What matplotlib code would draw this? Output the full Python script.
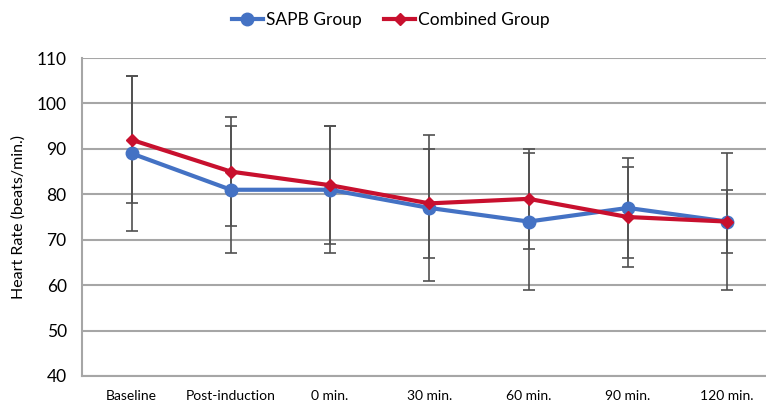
import numpy as np
import matplotlib.pyplot as plt

plt.rcParams['font.family'] = ['Lato', 'DejaVu Sans']

# data
time_points = ['Baseline', 'Post-induction', '0 min.', '30 min.', '60 min.', '90 min.', '120 min.']
sapb_mean = [89, 81, 81, 77, 74, 77, 74]
sapb_sd = [17, 14, 14, 16, 15, 11, 15]
combined_mean = [92, 85, 82, 78, 79, 75, 74]
combined_sd = [14, 12, 13, 12, 11, 11, 7]

x = np.arange(len(time_points))

fig = plt.figure(figsize=(7.66, 4.03), dpi=100)
ax = fig.add_axes([0.107, 0.067, 0.907, 0.789])

# error bars first, lines on top
ax.errorbar(x, sapb_mean, yerr=sapb_sd, fmt='none', ecolor='#505050',
            elinewidth=1.2, capsize=4, capthick=1.2, zorder=3)
ax.errorbar(x, combined_mean, yerr=combined_sd, fmt='none', ecolor='#505050',
            elinewidth=1.2, capsize=4, capthick=1.2, zorder=3)

ax.plot(x, sapb_mean, color='#4472C4', lw=3, marker='o', markersize=9,
        label='SAPB Group', zorder=4)
ax.plot(x, combined_mean, color='#C8102E', lw=3, marker='D', markersize=6,
        label='Combined Group', zorder=5)

ax.set_xlim(-0.5, len(time_points) - 0.5)
ax.set_ylim(40, 110)
ax.set_yticks(range(40, 111, 10))
ax.set_xticks(x)
ax.set_xticklabels(time_points, fontsize=10)
ax.tick_params(axis='y', labelsize=12.5, length=0, pad=11)
ax.tick_params(axis='x', length=0, pad=10)
ax.set_ylabel('Heart Rate (beats/min.)', fontsize=11.5, labelpad=8)

ax.grid(axis='y', color='#A6A6A6', lw=1.5)
ax.set_axisbelow(True)
for side in ['top', 'right']:
    ax.spines[side].set_visible(False)
for side in ['left', 'bottom']:
    ax.spines[side].set_color('#A6A6A6')
    ax.spines[side].set_linewidth(1.5)

fig.legend(loc='center', bbox_to_anchor=(0.51, 0.95), ncol=2, frameon=False,
           fontsize=12.5, handlelength=1.8, handletextpad=0.15, columnspacing=1.3)

fig.savefig('out.png', dpi=100)
